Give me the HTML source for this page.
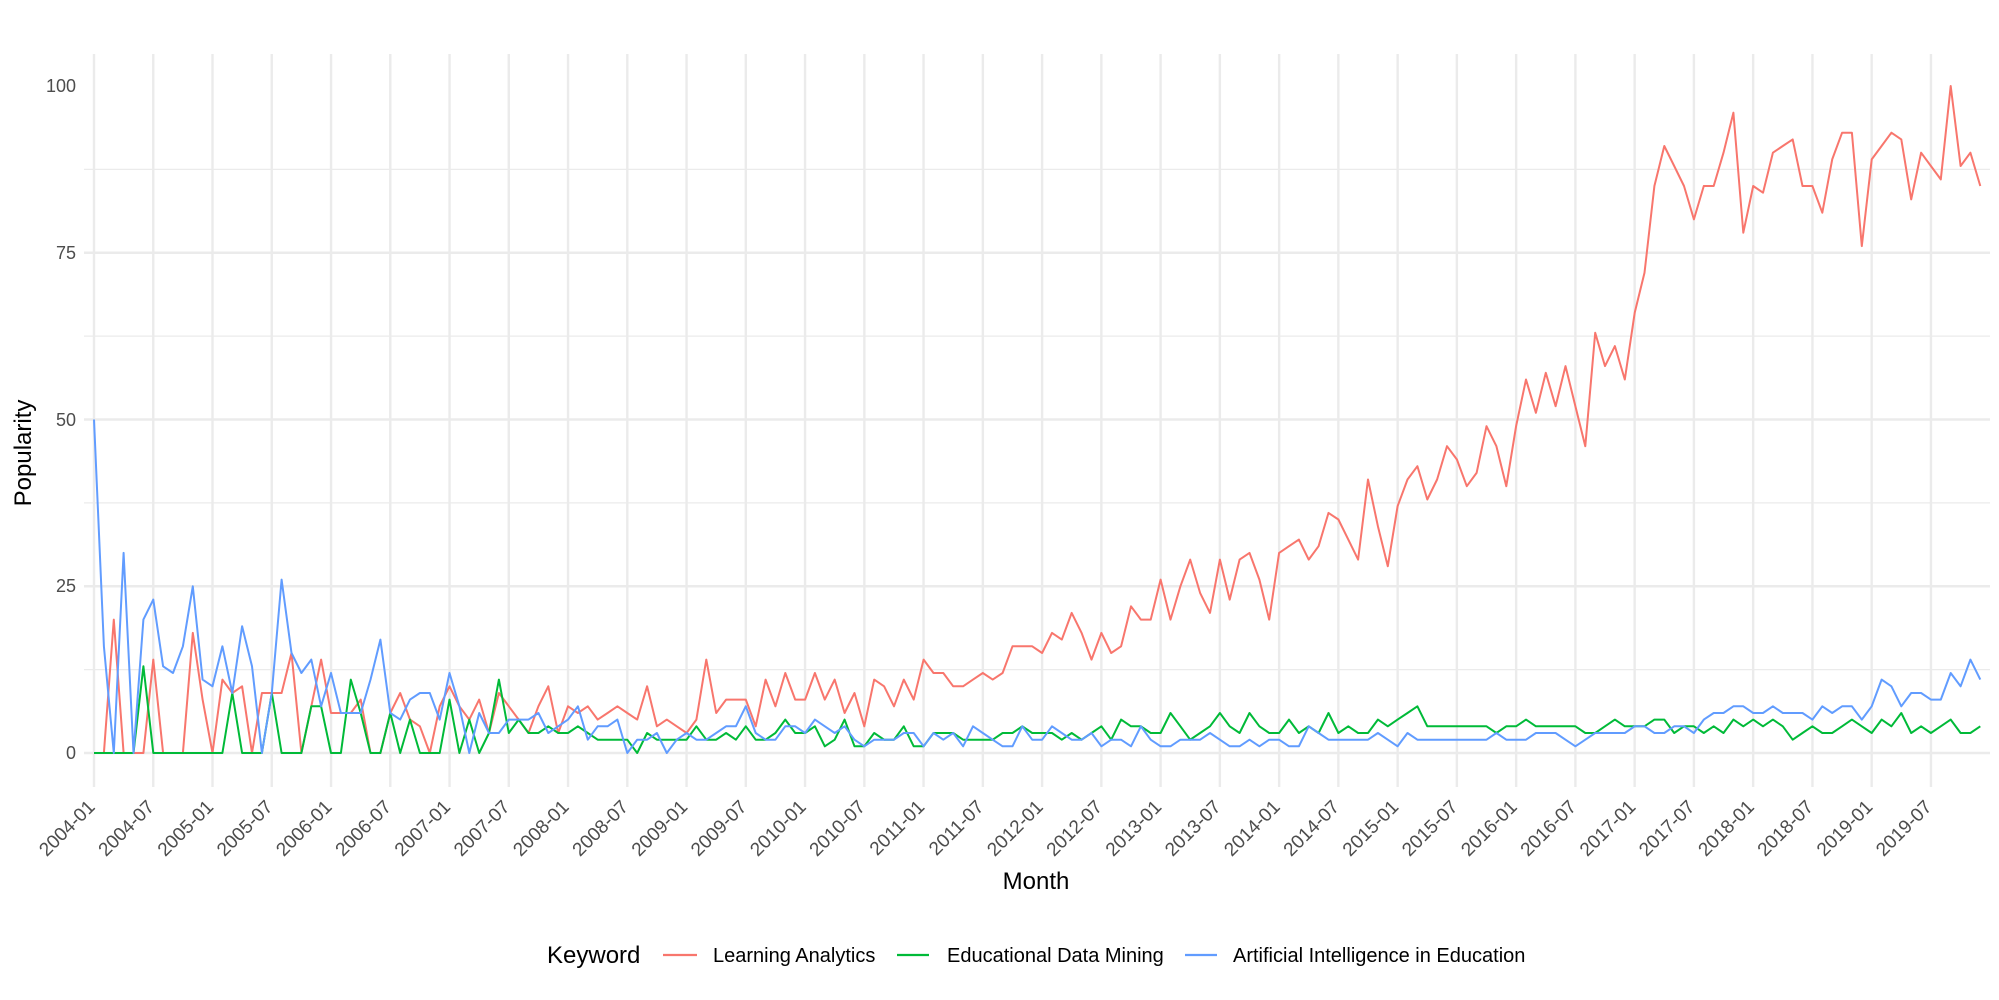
<!DOCTYPE html>
<html><head><meta charset="utf-8"><style>
html,body{margin:0;padding:0;background:#fff;}
svg{display:block;font-family:"Liberation Sans",Arial,sans-serif;}
</style></head><body>
<svg id="s" width="1999" height="1000" viewBox="0 0 1999 1000" xmlns="http://www.w3.org/2000/svg">
<g id="grid"></g>
<g fill="#4d4d4d" font-size="18" text-anchor="end">
<text x="76" y="759">0</text><text x="76" y="592">25</text><text x="76" y="426">50</text><text x="76" y="259">75</text><text x="76" y="92">100</text>
</g>
<g fill="#4d4d4d" font-size="19" text-anchor="end">
<text transform="translate(96,808) rotate(-45)">2004-01</text>
<text transform="translate(155.3,808) rotate(-45)">2004-07</text>
<text transform="translate(214.5,808) rotate(-45)">2005-01</text>
<text transform="translate(273.8,808) rotate(-45)">2005-07</text>
<text transform="translate(333,808) rotate(-45)">2006-01</text>
<text transform="translate(392.3,808) rotate(-45)">2006-07</text>
<text transform="translate(451.5,808) rotate(-45)">2007-01</text>
<text transform="translate(510.8,808) rotate(-45)">2007-07</text>
<text transform="translate(570,808) rotate(-45)">2008-01</text>
<text transform="translate(629.3,808) rotate(-45)">2008-07</text>
<text transform="translate(688.6,808) rotate(-45)">2009-01</text>
<text transform="translate(747.8,808) rotate(-45)">2009-07</text>
<text transform="translate(807.1,808) rotate(-45)">2010-01</text>
<text transform="translate(866.3,808) rotate(-45)">2010-07</text>
<text transform="translate(925.6,808) rotate(-45)">2011-01</text>
<text transform="translate(984.8,808) rotate(-45)">2011-07</text>
<text transform="translate(1044.1,808) rotate(-45)">2012-01</text>
<text transform="translate(1103.4,808) rotate(-45)">2012-07</text>
<text transform="translate(1162.6,808) rotate(-45)">2013-01</text>
<text transform="translate(1221.9,808) rotate(-45)">2013-07</text>
<text transform="translate(1281.1,808) rotate(-45)">2014-01</text>
<text transform="translate(1340.4,808) rotate(-45)">2014-07</text>
<text transform="translate(1399.6,808) rotate(-45)">2015-01</text>
<text transform="translate(1458.9,808) rotate(-45)">2015-07</text>
<text transform="translate(1518.1,808) rotate(-45)">2016-01</text>
<text transform="translate(1577.4,808) rotate(-45)">2016-07</text>
<text transform="translate(1636.7,808) rotate(-45)">2017-01</text>
<text transform="translate(1695.9,808) rotate(-45)">2017-07</text>
<text transform="translate(1755.2,808) rotate(-45)">2018-01</text>
<text transform="translate(1814.4,808) rotate(-45)">2018-07</text>
<text transform="translate(1873.7,808) rotate(-45)">2019-01</text>
<text transform="translate(1932.9,808) rotate(-45)">2019-07</text>
</g>
<text x="1036" y="889" font-size="24" text-anchor="middle" fill="#000">Month</text>
<text transform="translate(31,453) rotate(-90)" font-size="24" text-anchor="middle" fill="#000">Popularity</text>
<g id="lines"></g>
<g font-size="20" fill="#000">
<text x="547" y="963" font-size="24">Keyword</text>
<line x1="663" y1="955" x2="697" y2="955" stroke="#F8766D" stroke-width="2.2"/>
<text x="713" y="962">Learning Analytics</text>
<line x1="897" y1="955" x2="929" y2="955" stroke="#00BA38" stroke-width="2.2"/>
<text x="947" y="962">Educational Data Mining</text>
<line x1="1185" y1="955" x2="1217" y2="955" stroke="#619CFF" stroke-width="2.2"/>
<text x="1233" y="962">Artificial Intelligence in Education</text>
</g>
</svg>
<script>
function X(i){return 94+9.876*i;}
function Y(v){return 753-6.67*v;}
var g=document.getElementById("grid"),h="";
for(var k=0;k<8;k++){var v=k*12.5,maj=(k%2==0);
h+='<line x1="84" x2="1990" y1="'+Y(v)+'" y2="'+Y(v)+'" stroke="#ebebeb" stroke-width="'+(maj?2.4:1.2)+'"/>';}
for(var k=0;k<32;k++){var x=X(6*k);
h+='<line x1="'+x+'" x2="'+x+'" y1="54" y2="787" stroke="#ebebeb" stroke-width="2.4"/>';}
g.innerHTML=h;
var red=[0,0,20,0,0,0,14,0,0,0,18,8,0,11,9,10,0,9,9,9,15,0,7,14,6,6,6,8,0,0,6,9,5,4,0,7,10,7,5,8,3,9,
7,5,3,7,10,3,7,6,7,5,6,7,6,5,10,4,5,4,3,5,14,6,8,8,8,4,11,7,12,8,8,12,8,11,6,9,4,11,
10,7,11,8,14,12,12,10,10,11,12,11,12,16,16,16,15,18,17,21,18,14,18,15,16,22,20,20,
26,20,25,29,24,21,29,23,29,30,26,20,30,31,32,29,31,36,35,32,29,41,34,28,37,41,43,38,41,46,44,40,42,49,46,40,49,56,51,57,52,58,52,46,63,58,61,56,66,72,85,91,88,85,80,85,85,90,96,78,85,84,90,91,92,85,85,81,89,93,93,76,89,91,93,92,83,90,88,86,100,88,90,85];
var green=[0,0,0,0,0,13,0,0,0,0,0,0,0,0,9,0,0,0,9,0,0,0,7,7,0,0,11,6,0,0,6,0,5,0,0,0,8,0,5,0,3,11,
3,5,3,3,4,3,3,4,3,2,2,2,2,0,3,2,2,2,2,4,2,2,3,2,4,2,2,3,5,3,3,4,1,2,5,1,1,3,
2,2,4,1,1,3,3,3,2,2,2,2,3,3,4,3,3,3,2,3,2,3,4,2,5,4,4,3,3,6,4,2,3,4,6,4,3,6,4,3,
3,5,3,4,3,6,3,4,3,3,5,4,5,6,7,4,4,4,4,4,4,4,3,4,4,5,4,4,4,4,4,3,3,4,
5,4,4,4,5,5,3,4,4,3,4,3,5,4,5,4,5,4,2,3,4,3,3,4,5,4,3,5,4,6,3,4,3,4,5,3,3,4];
var blue=[50,16,0,30,0,20,23,13,12,16,25,11,10,16,9,19,13,0,9,26,15,12,14,7,12,6,6,6,11,17,6,5,8,9,9,5,12,7,0,6,3,3,
5,5,5,6,3,4,5,7,2,4,4,5,0,2,2,3,0,2,3,2,2,3,4,4,7,3,2,2,4,4,3,5,4,3,4,2,1,2,
2,2,3,3,1,3,2,3,1,4,3,2,1,1,4,2,2,4,3,2,2,3,1,2,2,1,4,2,1,1,2,2,2,3,2,1,1,2,1,2,
2,1,1,4,3,2,2,2,2,2,3,2,1,3,2,2,2,2,2,2,2,2,3,2,2,2,3,3,3,2,1,2,3,3,
3,3,4,4,3,3,4,4,3,5,6,6,7,7,6,6,7,6,6,6,5,7,6,7,7,5,7,11,10,7,9,9,8,8,12,10,14,11];
var L=document.getElementById("lines"),s="";
[[red,"#F8766D"],[green,"#00BA38"],[blue,"#619CFF"]].forEach(function(d){
var p=d[0].map(function(v,i){return X(i).toFixed(1)+","+Y(v).toFixed(1);}).join(" ");
s+='<polyline fill="none" stroke="'+d[1]+'" stroke-width="2" stroke-linejoin="round" points="'+p+'"/>';});
L.innerHTML=s;
</script>
</body></html>
